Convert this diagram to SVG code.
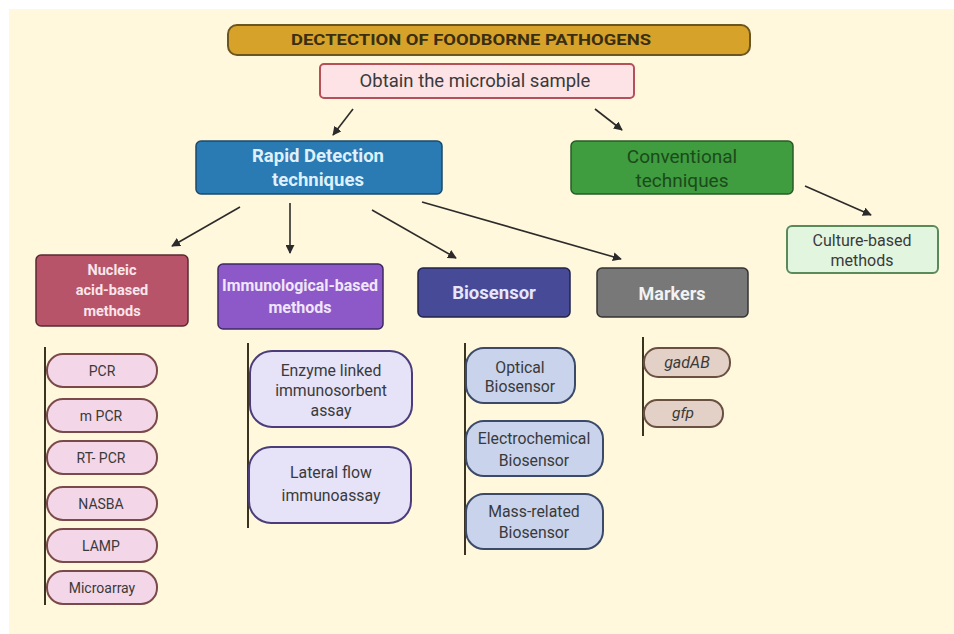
<svg xmlns="http://www.w3.org/2000/svg" width="954" height="634" viewBox="0 0 954 634">
<defs>
<marker id="ah" viewBox="0 0 10 10" refX="9" refY="5" markerWidth="9" markerHeight="9" orient="auto" markerUnits="userSpaceOnUse">
<path d="M0,0 L10,5 L0,10 z" fill="#2b2b2b"/>
</marker>
<style>
text{font-family:Roboto,"Liberation Sans",sans-serif;text-anchor:middle;dominant-baseline:central}
.conn line{stroke:#2b2b2b;stroke-width:1.6;marker-end:url(#ah)}
.vl{stroke:#3a3320;stroke-width:2}
.pill{fill:#f3d6e8;stroke:#7a4a4a;stroke-width:2}
.pt{font-size:14px;fill:#3a3a3a}
.lav{fill:#e6e2f8;stroke:#4a3d7a;stroke-width:2}
.bio{fill:#c9d3ec;stroke:#3c4a6a;stroke-width:2}
.mk{fill:#e3d0c6;stroke:#6a5040;stroke-width:2}
.st{font-size:15.8px;fill:#3a3a3a}
</style>
</defs>
<rect x="0" y="0" width="954" height="634" fill="#ffffff"/>
<rect x="9" y="9" width="945" height="625" fill="#fff8dc"/>

<g id="title">
<rect x="228" y="25" width="522" height="30" rx="9" fill="#d6a22a" stroke="#6b5520" stroke-width="2"/>
<text x="471" y="40" font-size="15.5" font-weight="bold" fill="#3a2e12" textLength="360" lengthAdjust="spacingAndGlyphs">DECTECTION OF FOODBORNE PATHOGENS</text>
</g>
<g id="obtain">
<rect x="320" y="64" width="314" height="34" rx="4" fill="#fde3e6" stroke="#b5505a" stroke-width="2"/>
<text x="475" y="81" font-size="18.5" fill="#3a3a3a">Obtain the microbial sample</text>
</g>
<g id="rapid">
<rect x="196" y="141" width="246" height="53" rx="5" fill="#2a7ab4" stroke="#1d4a6a" stroke-width="1.5"/>
<text x="318" y="156" font-size="18.5" font-weight="bold" fill="#dff0fb">Rapid Detection</text>
<text x="318" y="180" font-size="18.5" font-weight="bold" fill="#dff0fb">techniques</text>
</g>
<g id="conventional">
<rect x="571" y="141" width="222" height="53" rx="5" fill="#3f9c3f" stroke="#2a5a2a" stroke-width="1.5"/>
<text x="682" y="156" font-size="19" fill="#1b4a1b">Conventional</text>
<text x="682" y="180" font-size="19" fill="#1b4a1b">techniques</text>
</g>
<g id="culture">
<rect x="787" y="226" width="151" height="47" rx="5" fill="#e2f5df" stroke="#5a8a5a" stroke-width="2"/>
<text x="862" y="240" font-size="16" fill="#3a3a3a">Culture-based</text>
<text x="862" y="260" font-size="16" fill="#3a3a3a">methods</text>
</g>
<g id="nucleic">
<rect x="36" y="255" width="152" height="71" rx="5" fill="#b8546a" stroke="#5a2a30" stroke-width="1.5"/>
<text x="112" y="270" font-size="14.5" font-weight="bold" fill="#f8e6ea">Nucleic</text>
<text x="112" y="290" font-size="14.5" font-weight="bold" fill="#f8e6ea">acid-based</text>
<text x="112" y="311" font-size="14.5" font-weight="bold" fill="#f8e6ea">methods</text>
</g>
<g id="immuno">
<rect x="218" y="264" width="165" height="65" rx="5" fill="#8d59c9" stroke="#3e2a60" stroke-width="1.5"/>
<text x="300" y="285" font-size="16" font-weight="bold" fill="#f0e6fb" textLength="156" lengthAdjust="spacingAndGlyphs">Immunological-based</text>
<text x="300" y="307" font-size="16" font-weight="bold" fill="#f0e6fb">methods</text>
</g>
<g id="biosensor">
<rect x="418" y="268" width="152" height="49" rx="5" fill="#474a97" stroke="#22244a" stroke-width="1.5"/>
<text x="494" y="293" font-size="18.5" font-weight="bold" fill="#e6e6fb">Biosensor</text>
</g>
<g id="markers">
<rect x="597" y="268" width="151" height="49" rx="5" fill="#787878" stroke="#333" stroke-width="1.5"/>
<text x="672" y="293" font-size="18" font-weight="bold" fill="#f2f2f2">Markers</text>
</g>

<g id="nucleic-list">
<line class="vl" x1="45" y1="347" x2="45" y2="605"/>
<g id="pcr"><rect class="pill" x="47" y="354" width="110" height="33" rx="16"/><text class="pt" x="102" y="371">PCR</text></g>
<g id="mpcr"><rect class="pill" x="47" y="399" width="110" height="33" rx="16"/><text class="pt" x="101" y="416">m PCR</text></g>
<g id="rtpcr"><rect class="pill" x="47" y="441" width="110" height="33" rx="16"/><text class="pt" x="101" y="458">RT- PCR</text></g>
<g id="nasba"><rect class="pill" x="47" y="487" width="110" height="33" rx="16"/><text class="pt" x="101" y="504">NASBA</text></g>
<g id="lamp"><rect class="pill" x="47" y="529" width="110" height="33" rx="16"/><text class="pt" x="101" y="546">LAMP</text></g>
<g id="microarray"><rect class="pill" x="47" y="571" width="110" height="33" rx="16"/><text class="pt" x="102" y="588">Microarray</text></g>
</g>

<g id="immuno-list">
<line class="vl" x1="248" y1="343" x2="248" y2="528"/>
<g id="elisa"><rect class="lav" x="250" y="351" width="162" height="76" rx="22"/>
<text class="st" x="331" y="370">Enzyme linked</text><text class="st" x="331" y="390">immunosorbent</text><text class="st" x="331" y="410">assay</text></g>
<g id="lfia"><rect class="lav" x="249" y="447" width="162" height="76" rx="22"/>
<text class="st" x="331" y="472">Lateral flow</text><text class="st" x="331" y="495">immunoassay</text></g>
</g>

<g id="bio-list">
<line class="vl" x1="465" y1="343" x2="465" y2="555"/>
<g id="optical"><rect class="bio" x="466" y="348" width="109" height="55" rx="18"/>
<text class="st" x="520" y="367">Optical</text><text class="st" x="520" y="386">Biosensor</text></g>
<g id="electro"><rect class="bio" x="466" y="421" width="137" height="55" rx="18"/>
<text class="st" x="534" y="438">Electrochemical</text><text class="st" x="534" y="460">Biosensor</text></g>
<g id="mass"><rect class="bio" x="466" y="494" width="137" height="55" rx="18"/>
<text class="st" x="534" y="511">Mass-related</text><text class="st" x="534" y="532">Biosensor</text></g>
</g>

<g id="marker-list">
<line class="vl" x1="643" y1="337" x2="643" y2="436"/>
<g id="gadab"><rect class="mk" x="644" y="348" width="86" height="29" rx="14"/>
<text x="687" y="362" font-size="16" font-style="italic" fill="#3a3a3a">gadAB</text></g>
<g id="gfp"><rect class="mk" x="644" y="400" width="79" height="27" rx="13"/>
<text x="683" y="413" font-size="15.5" font-style="italic" fill="#3a3a3a">gfp</text></g>
</g>

<g id="connectors" class="conn">
<line x1="353" y1="109" x2="333" y2="135"/>
<line x1="595" y1="109" x2="622" y2="130"/>
<line x1="805" y1="186" x2="871" y2="215"/>
<line x1="240" y1="207" x2="172" y2="246"/>
<line x1="290" y1="203" x2="290" y2="253"/>
<line x1="372" y1="210" x2="456" y2="258"/>
<line x1="422" y1="202" x2="621" y2="259"/>
</g>
</svg>
